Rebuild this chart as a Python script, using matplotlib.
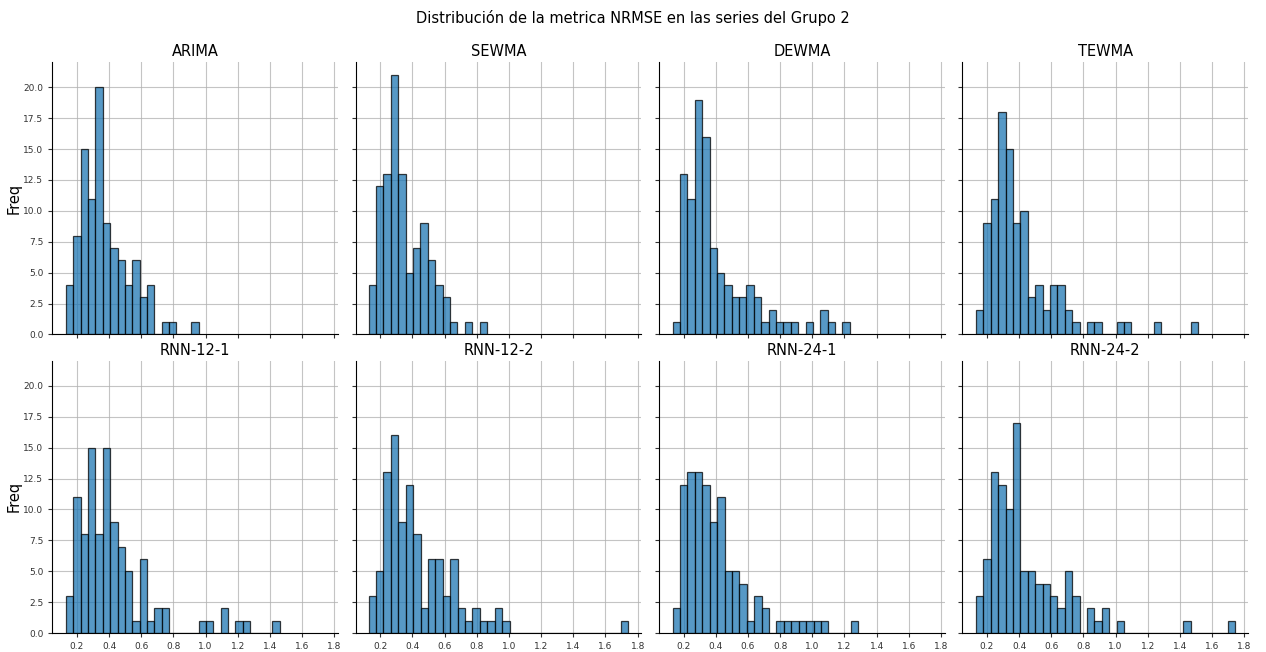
import matplotlib
import matplotlib.pyplot as plt

matplotlib.use('Agg')

# NRMSE histogram counts per model (100 series each), read from the bins
models = ['ARIMA', 'SEWMA', 'DEWMA', 'TEWMA',
          'RNN-12-1', 'RNN-12-2', 'RNN-24-1', 'RNN-24-2']

arima = [4, 8, 15, 11, 20, 9, 7, 6, 4, 6, 3, 4, 0, 1, 1, 0, 0, 1]
sewma = [4, 12, 13, 21, 13, 5, 7, 9, 6, 4, 3, 1, 0, 1, 0, 1]
dewma = [1, 13, 11, 19, 16, 7, 5, 4, 3, 3, 4, 3, 1, 2, 1, 1, 1, 0, 1, 0,
         2, 1, 0, 1]
tewma = [2, 9, 11, 18, 15, 9, 10, 3, 4, 2, 4, 4, 2, 1, 0, 1, 1, 0, 0, 1,
         1, 0, 0, 0, 1, 0, 0, 0, 0, 1]
rnn_12_1 = [3, 11, 8, 15, 8, 15, 9, 7, 5, 1, 6, 1, 2, 2, 0, 0, 0, 0, 1, 1,
            0, 2, 0, 1, 1, 0, 0, 0, 1]
rnn_12_2 = [3, 5, 13, 16, 9, 12, 8, 2, 6, 6, 3, 6, 2, 1, 2, 1, 1, 2, 1, 0,
            0, 0, 0, 0, 0, 0, 0, 0, 0, 0, 0, 0, 0, 0, 1]
rnn_24_1 = [2, 12, 13, 13, 12, 9, 11, 5, 5, 4, 1, 3, 2, 0, 1, 1, 1, 1, 1,
            1, 1, 0, 0, 0, 1]
rnn_24_2 = [3, 6, 13, 12, 10, 17, 5, 5, 4, 4, 3, 2, 5, 3, 0, 2, 1, 2, 0, 1,
            0, 0, 0, 0, 0, 0, 0, 0, 1, 0, 0, 0, 0, 0, 1]

all_counts = [arima, sewma, dewma, tewma, rnn_12_1, rnn_12_2, rnn_24_1, rnn_24_2]

# left edge of the first bin and bin width for each model
bin_starts = [0.132, 0.128, 0.132, 0.132, 0.132, 0.128, 0.132, 0.132]
bin_widths = [0.0458, 0.0460, 0.0459, 0.0460, 0.0458, 0.0461, 0.0461, 0.0460]

xticks = [0.2, 0.4, 0.6, 0.8, 1.0, 1.2, 1.4, 1.6, 1.8]
yticks = [0.0, 2.5, 5.0, 7.5, 10.0, 12.5, 15.0, 17.5, 20.0]

fig, axes = plt.subplots(2, 4, figsize=(12.66, 6.52), dpi=100,
                         sharex=True, sharey=True)
fig.subplots_adjust(left=0.0413, right=0.9858, bottom=0.029, top=0.905,
                    wspace=0.0616, hspace=0.0956)

for ax, name, counts, start, width in zip(axes.flat, models, all_counts,
                                          bin_starts, bin_widths):
    lefts = [start + i * width for i in range(len(counts))]
    ax.bar(lefts, counts, width=width, align='edge', color='#1f77b4',
           alpha=0.75, edgecolor='black', linewidth=0.9, zorder=2)
    ax.set_title(name, fontsize=10.5, pad=4)
    ax.grid(True, color='#b0b0b0', linewidth=0.8, alpha=0.75, zorder=0)
    ax.set_axisbelow(True)
    ax.spines['top'].set_visible(False)
    ax.spines['right'].set_visible(False)
    ax.tick_params(labelsize=6.5, length=3, colors='#333333')

axes[0, 0].set_xticks(xticks)
axes[0, 0].set_yticks(yticks)
axes[0, 0].set_xlim(0.047, 1.823)
axes[0, 0].set_ylim(0, 22.05)

for ax in axes[:, 0]:
    ax.set_ylabel('Freq', fontsize=10.5, labelpad=1)

fig.suptitle('Distribución de la metrica NRMSE en las series del Grupo 2',
             fontsize=10.5, y=0.985)

plt.savefig('out.png', dpi=100)
plt.close()
